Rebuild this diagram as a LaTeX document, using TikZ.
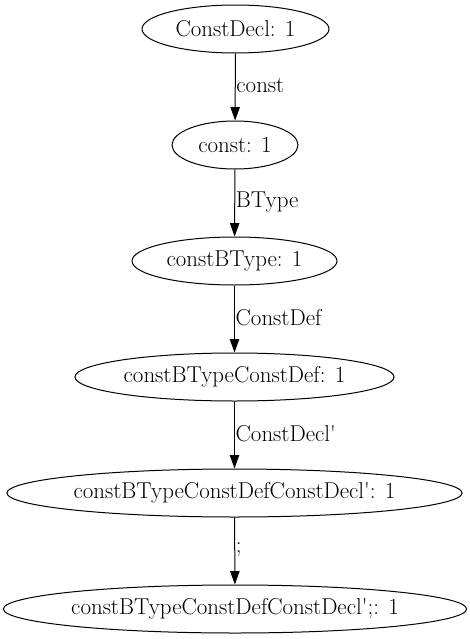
\documentclass[tikz,border=0pt]{standalone}
\usetikzlibrary{shapes.geometric,arrows.meta}
\begin{document}
\begin{tikzpicture}[x=0.75pt,y=-0.75pt,
  nd/.style={draw,line width=0.75pt,ellipse,inner sep=0pt,minimum height=36pt,font=\fontsize{17.2}{20}\selectfont},
  edge/.style={draw,line width=0.75pt,-{Triangle[length=10pt,width=7pt]}},
  lbl/.style={anchor=west,inner sep=0pt,font=\fontsize{17.2}{20}\selectfont}]
\useasboundingbox (0,0) rectangle (470,639);
\node[nd,minimum width=140.25pt] (n1) at (235.5,29) {ConstDecl: 1};
\node[nd,minimum width=94.5pt] (n2) at (235,145) {const: 1};
\node[nd,minimum width=153.75pt] (n3) at (234.5,261) {constBType: 1};
\node[nd,minimum width=239.25pt] (n4) at (234.5,377) {constBTypeConstDef: 1};
\node[nd,minimum width=339.75pt] (n5) at (234.5,493) {constBTypeConstDefConstDecl\textquotesingle: 1};
\node[nd,minimum width=347.25pt] (n6) at (235,609) {constBTypeConstDefConstDecl\textquotesingle;: 1};
\draw[edge] (n1) -- (n2) node[lbl,pos=0.5,xshift=0.5pt,yshift=1pt] {const};
\draw[edge] (n2) -- (n3) node[lbl,pos=0.5,xshift=0.5pt,yshift=1pt] {BType};
\draw[edge] (n3) -- (n4) node[lbl,pos=0.5,xshift=0.5pt,yshift=1pt] {ConstDef};
\draw[edge] (n4) -- (n5) node[lbl,pos=0.5,xshift=0.5pt,yshift=1pt] {ConstDecl\textquotesingle};
\draw[edge] (n5) -- (n6) node[lbl,pos=0.5,xshift=0.5pt,yshift=1pt] {;};
\end{tikzpicture}
\end{document}
